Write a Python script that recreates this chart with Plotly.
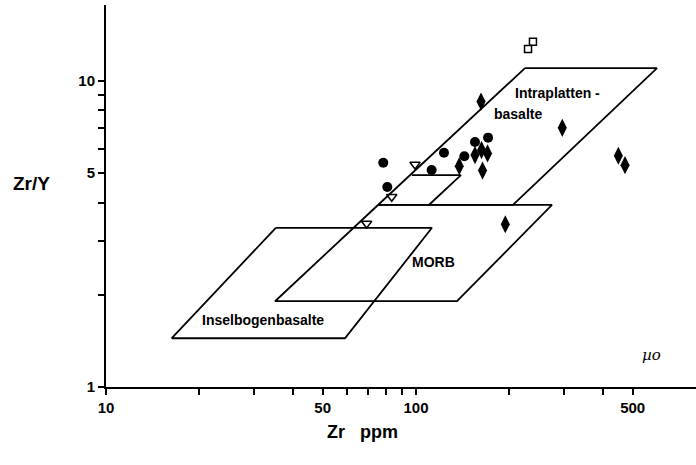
import math
import plotly.graph_objects as go

# ---- data ----
# field boundaries (Zr ppm, Zr/Y)
intraplate_zr = [224.7, 599.0, 205.5, 75.4, 224.7]
intraplate_ratio = [11.0, 11.0, 3.93, 3.93, 11.0]
morb_zr = [75.4, 274.6, 135.6, 35.1, 75.4]
morb_ratio = [3.93, 3.93, 1.906, 1.906, 3.93]
box_zr = [97.0, 139.6, 110.0]
box_ratio = [4.92, 4.92, 3.93]
arc_zr = [35.3, 112.6, 59.0, 16.3, 35.3]
arc_ratio = [3.31, 3.31, 1.443, 1.443, 3.31]

# samples
circle_zr = [78.4, 80.8, 112.3, 123.1, 143.2, 155.0, 170.8]
circle_ratio = [5.40, 4.50, 5.11, 5.82, 5.67, 6.31, 6.52]
diamond_zr = [162.1, 296.4, 137.9, 155.0, 163.9, 170.1, 162.7, 449.5, 472.3, 194.1]
diamond_ratio = [8.55, 7.02, 5.26, 5.72, 5.09, 5.79, 5.94, 5.69, 5.30, 3.40]
triangle_zr = [99.3, 83.5, 69.3]
triangle_ratio = [5.33, 4.18, 3.42]
square_zr = [229.8, 238.4]
square_ratio = [12.7, 13.4]

x_tickvals = [10, 20, 30, 40, 50, 60, 70, 80, 90, 100, 200, 300, 400, 500]
x_ticktext = ["10", "", "", "", "50", "", "", "", "", "100", "", "", "", "500"]
y_tickvals = [1, 2, 3, 4, 5, 6, 7, 8, 9, 10]
y_ticktext = ["1", "", "", "", "5", "", "", "", "", "10"]

FONT = "Liberation Sans, Arial, sans-serif"
fig = go.Figure()

line_style = dict(color="black", width=1.8)
for xs, ys in [(intraplate_zr, intraplate_ratio), (morb_zr, morb_ratio),
               (box_zr, box_ratio), (arc_zr, arc_ratio)]:
    fig.add_trace(go.Scatter(x=xs, y=ys, mode="lines", line=line_style,
                             hoverinfo="skip", showlegend=False))

fig.add_trace(go.Scatter(x=circle_zr, y=circle_ratio, mode="markers",
                         marker=dict(symbol="circle", size=10, color="black"),
                         showlegend=False))
fig.add_trace(go.Scatter(x=diamond_zr, y=diamond_ratio, mode="markers",
                         marker=dict(symbol="diamond-tall", size=13, color="black"),
                         showlegend=False))
fig.add_trace(go.Scatter(x=triangle_zr, y=triangle_ratio, mode="markers",
                         marker=dict(symbol="triangle-down-open", size=9, color="black",
                                     line=dict(width=1.5)),
                         showlegend=False))
fig.add_trace(go.Scatter(x=square_zr, y=square_ratio, mode="markers",
                         marker=dict(symbol="square-open", size=7, color="black",
                                     line=dict(width=1.5)),
                         showlegend=False))

def lab(text, zr, ratio, size=14):
    fig.add_annotation(x=math.log10(zr), y=math.log10(ratio), xref="x", yref="y",
                       text="<b>%s</b>" % text, showarrow=False,
                       xanchor="center", yanchor="middle",
                       font=dict(family=FONT, size=size, color="black"))

lab("Intraplatten -", 285.0, 9.12)
lab("basalte", 213.0, 7.78)
lab("MORB", 114.3, 2.556)
lab("Inselbogenbasalte", 32.1, 1.652)

def paper_text(text, x, y, size, family=FONT):
    fig.add_annotation(xref="paper", yref="paper", x=x, y=y, text=text,
                       showarrow=False, xanchor="center", yanchor="middle",
                       font=dict(family=family, size=size, color="black"))

paper_text("<b>Zr/Y</b>", -0.127, 0.534, 19)
paper_text("<b>Zr   ppm</b>", 0.434, -0.119, 18)
paper_text("<i>µo</i>", 0.925, 0.083, 15, family="DejaVu Serif")

axis_common = dict(type="log", ticks="outside", ticklen=6, tickwidth=1.5,
                   tickcolor="black", showline=True, linecolor="black", linewidth=2,
                   showgrid=False, zeroline=False,
                   tickfont=dict(family=FONT, size=15, color="black"))
fig.update_xaxes(range=[1, 1 + 590 / 310], tickvals=x_tickvals,
                 ticktext=["<b>%s</b>" % t if t else "" for t in x_ticktext],
                 **axis_common)
fig.update_yaxes(range=[0, 381.7 / 306], tickvals=y_tickvals,
                 ticktext=["<b>%s</b>" % t if t else "" for t in y_ticktext],
                 **axis_common)

fig.update_layout(width=696, height=465, margin=dict(l=106, r=0, t=5, b=78),
                  plot_bgcolor="white", paper_bgcolor="white", showlegend=False)

fig.write_html("out.html")
